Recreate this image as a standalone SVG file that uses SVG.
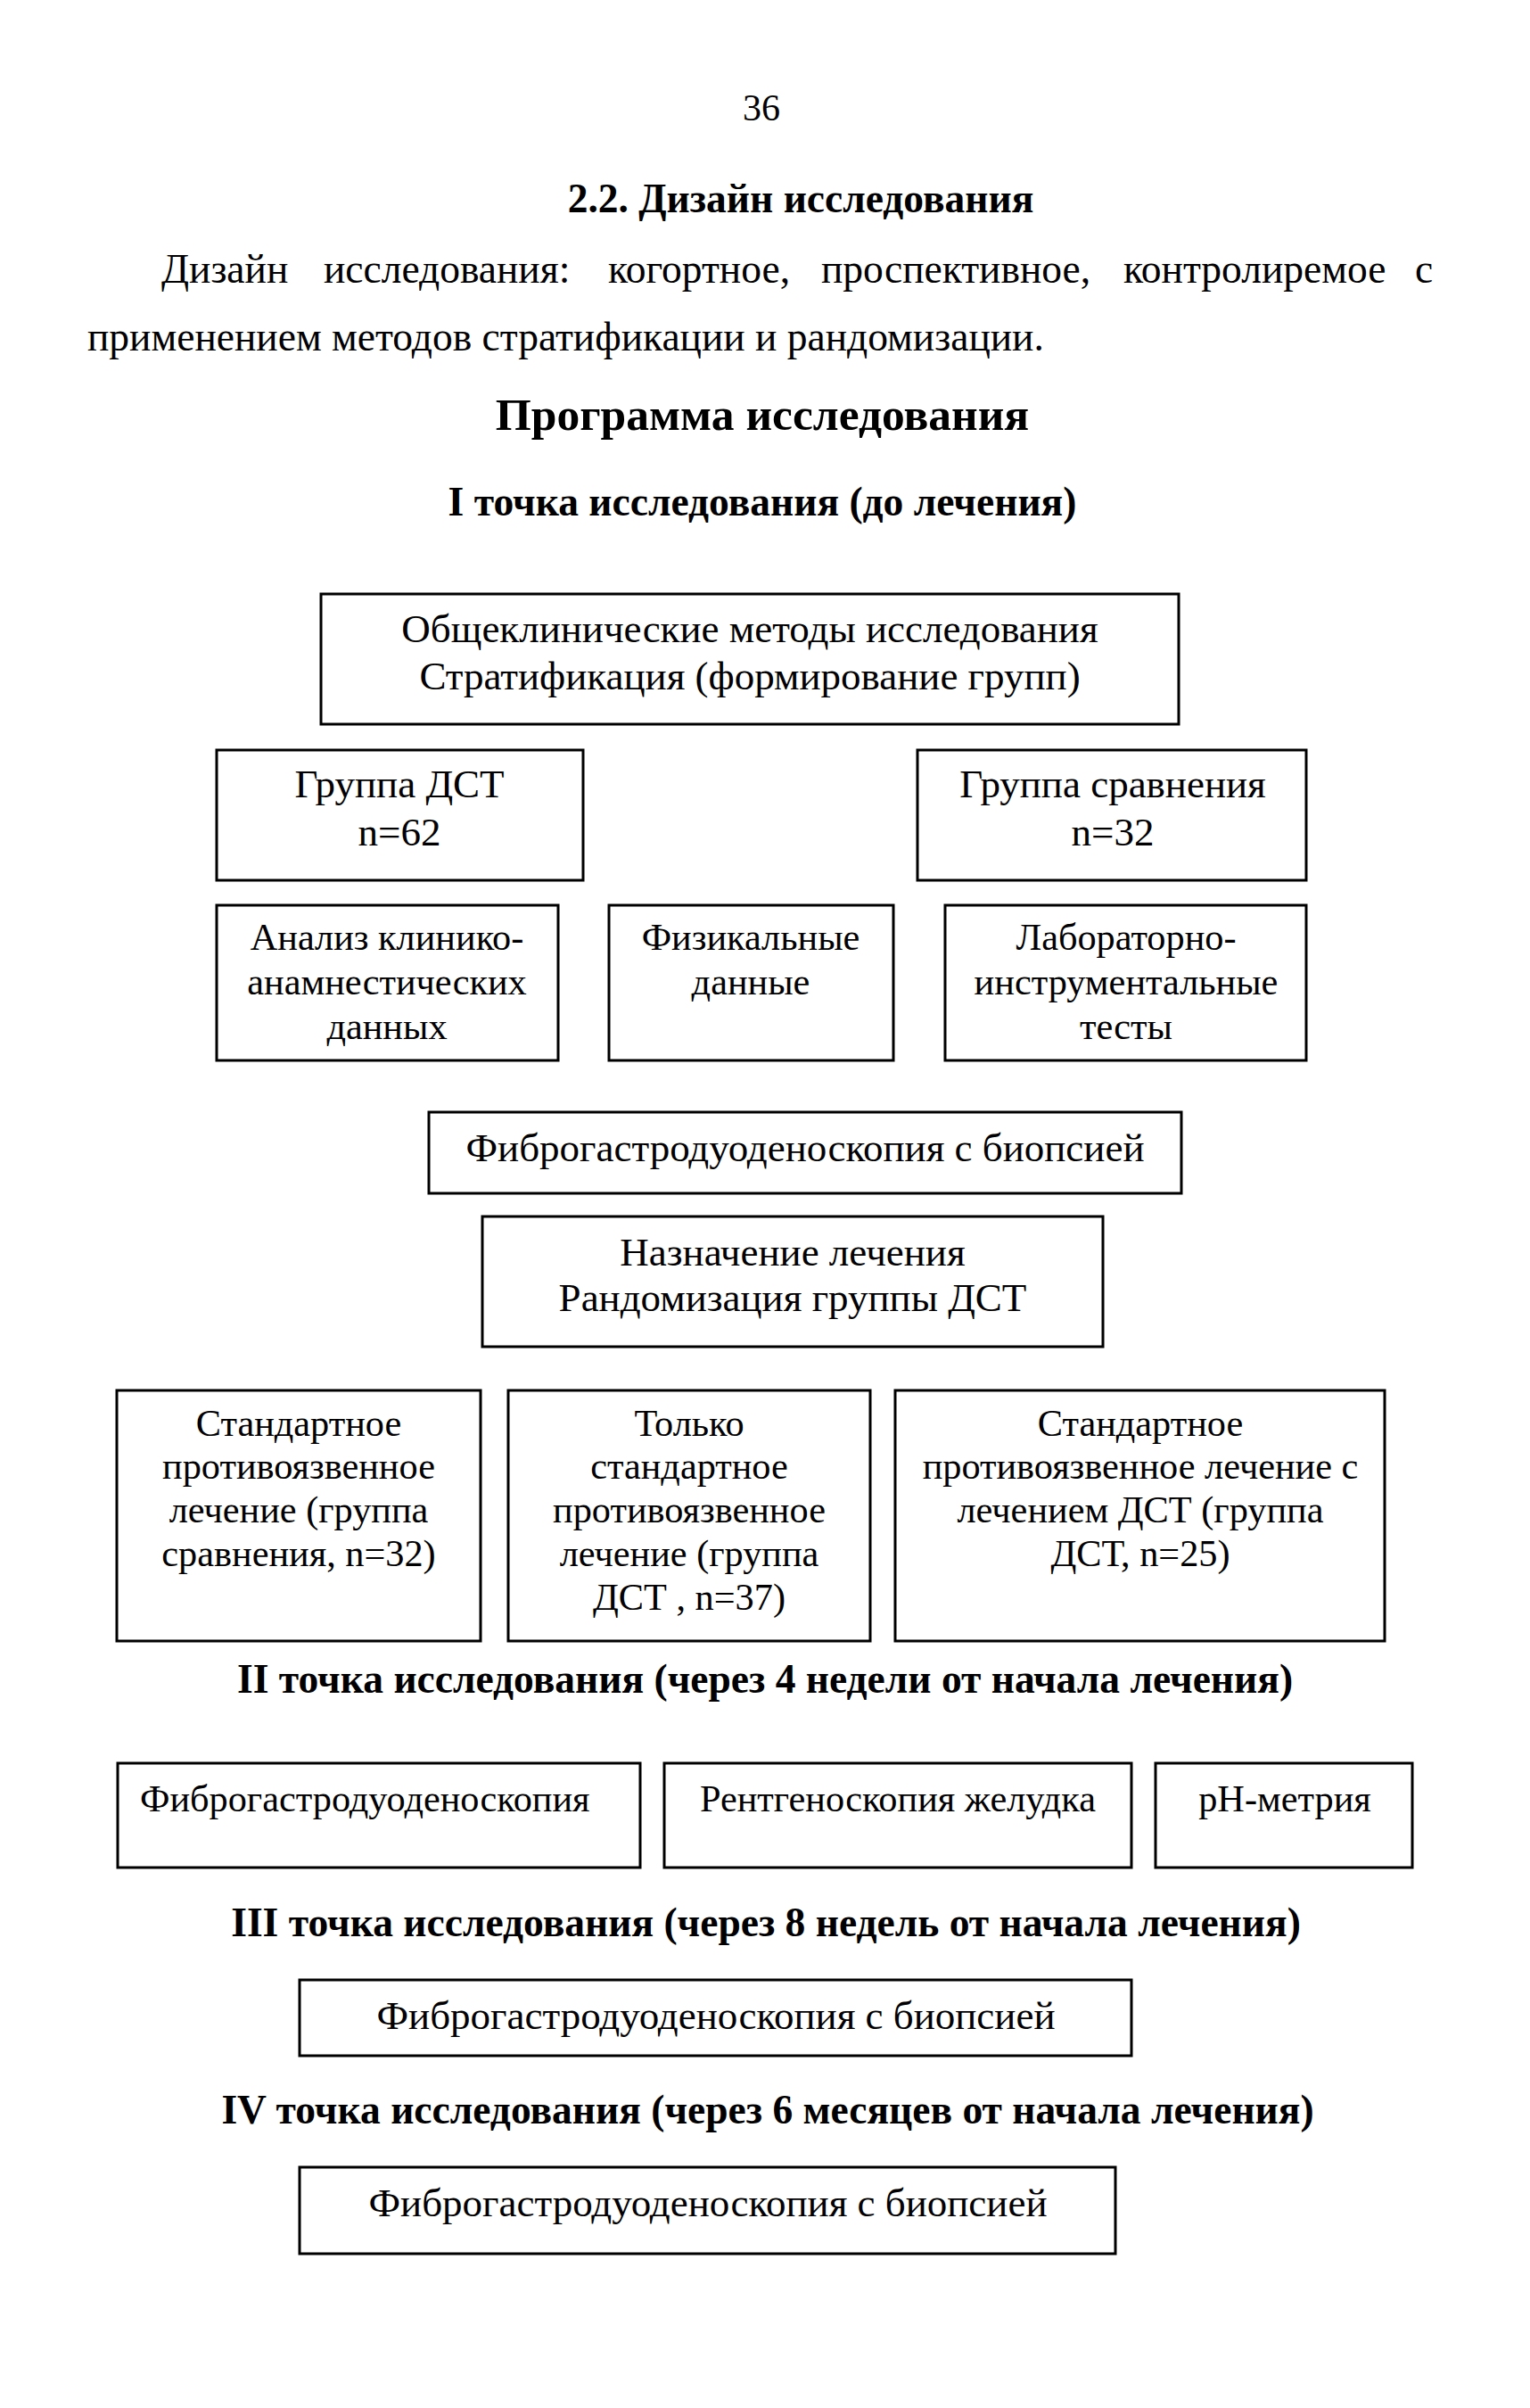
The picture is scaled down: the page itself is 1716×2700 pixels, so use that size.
<svg xmlns="http://www.w3.org/2000/svg" width="1716" height="2700" viewBox="0 0 1716 2700">
<style>
text{font-family:"Liberation Serif","Times New Roman",serif;fill:#000}
.t{font-size:45px;text-anchor:middle}
.s{font-size:42.3px;text-anchor:middle}
.sl{font-size:42.3px}
.p{font-size:45.5px}
.h{font-size:45.5px;font-weight:bold;text-anchor:middle}
.big{font-size:51.5px;font-weight:bold;text-anchor:middle}
.box{fill:#fff;stroke:#000;stroke-width:3}
</style>
<rect width="1716" height="2700" fill="#fff"/>
<g id="page-text">
<text x="854" y="135" font-size="42" text-anchor="middle">36</text>
<text class="h" x="898" y="238">2.2. Дизайн исследования</text>
<text class="p" x="181" y="317">Дизайн</text>
<text class="p" x="363" y="317">исследования:</text>
<text class="p" x="682" y="317">когортное,</text>
<text class="p" x="921" y="317">проспективное,</text>
<text class="p" x="1260" y="317">контролиремое</text>
<text class="p" x="1587" y="317">с</text>
<text class="p" x="98" y="393">применением методов стратификации и рандомизации.</text>
<text class="big" x="855" y="482">Программа исследования</text>
<text class="h" x="855" y="578">I точка исследования (до лечения)</text>
<text class="h" x="858" y="1898">II точка исследования (через 4 недели от начала лечения)</text>
<text class="h" x="859" y="2171">III точка исследования (через 8 недель от начала лечения)</text>
<text class="h" x="861" y="2381">IV точка исследования (через 6 месяцев от начала лечения)</text>
</g>
<g id="connectors"></g>
<g id="n-general"><rect class="box" x="360" y="666" width="962" height="146"/>
<text class="t" x="841" y="720">Общеклинические методы исследования</text>
<text class="t" x="841" y="773">Стратификация (формирование групп)</text></g>
<g id="n-dst"><rect class="box" x="243" y="841" width="411" height="146"/>
<text class="t" x="448" y="894">Группа ДСТ</text>
<text class="t" x="448" y="948">n=62</text></g>
<g id="n-compare"><rect class="box" x="1029" y="841" width="436" height="146"/>
<text class="t" x="1248" y="894">Группа сравнения</text>
<text class="t" x="1248" y="948">n=32</text></g>
<g id="n-anamnesis"><rect class="box" x="243" y="1015" width="383" height="174"/>
<text class="s" x="434" y="1065">Анализ клинико-</text>
<text class="s" x="434" y="1115">анамнестических</text>
<text class="s" x="434" y="1165">данных</text></g>
<g id="n-physical"><rect class="box" x="683" y="1015" width="319" height="174"/>
<text class="s" x="842" y="1065">Физикальные</text>
<text class="s" x="842" y="1115">данные</text></g>
<g id="n-lab"><rect class="box" x="1060" y="1015" width="405" height="174"/>
<text class="s" x="1263" y="1065">Лабораторно-</text>
<text class="s" x="1263" y="1115">инструментальные</text>
<text class="s" x="1263" y="1165">тесты</text></g>
<g id="n-fgds1"><rect class="box" x="481" y="1247" width="844" height="91"/>
<text class="t" x="903" y="1302">Фиброгастродуоденоскопия с биопсией</text></g>
<g id="n-treatment"><rect class="box" x="541" y="1364" width="696" height="146"/>
<text class="t" x="889" y="1419">Назначение лечения</text>
<text class="t" x="889" y="1470">Рандомизация группы ДСТ</text></g>
<g id="n-std"><rect class="box" x="131" y="1559" width="408" height="281"/>
<text class="s" x="335" y="1610">Стандартное</text>
<text class="s" x="335" y="1658">противоязвенное</text>
<text class="s" x="335" y="1707">лечение (группа</text>
<text class="s" x="335" y="1756">сравнения, n=32)</text></g>
<g id="n-only"><rect class="box" x="570" y="1559" width="406" height="281"/>
<text class="s" x="773" y="1610">Только</text>
<text class="s" x="773" y="1658">стандартное</text>
<text class="s" x="773" y="1707">противоязвенное</text>
<text class="s" x="773" y="1756">лечение (группа</text>
<text class="s" x="773" y="1805">ДСТ , n=37)</text></g>
<g id="n-std-dst"><rect class="box" x="1004" y="1559" width="549" height="281"/>
<text class="s" x="1279" y="1610">Стандартное</text>
<text class="s" x="1279" y="1658">противоязвенное лечение с</text>
<text class="s" x="1279" y="1707">лечением ДСТ (группа</text>
<text class="s" x="1279" y="1756">ДСТ, n=25)</text></g>
<g id="n-fgds2"><rect class="box" x="132" y="1977" width="586" height="117"/>
<text class="sl" x="157" y="2031">Фиброгастродуоденоскопия</text></g>
<g id="n-xray"><rect class="box" x="745" y="1977" width="524" height="117"/>
<text class="s" x="1007" y="2031">Рентгеноскопия желудка</text></g>
<g id="n-ph"><rect class="box" x="1296" y="1977" width="288" height="117"/>
<text class="s" x="1441" y="2031">pH-метрия</text></g>
<g id="n-fgds3"><rect class="box" x="336" y="2220" width="933" height="85"/>
<text class="t" x="803" y="2275">Фиброгастродуоденоскопия с биопсией</text></g>
<g id="n-fgds4"><rect class="box" x="336" y="2430" width="915" height="97"/>
<text class="t" x="794" y="2485">Фиброгастродуоденоскопия с биопсией</text></g>
</svg>
